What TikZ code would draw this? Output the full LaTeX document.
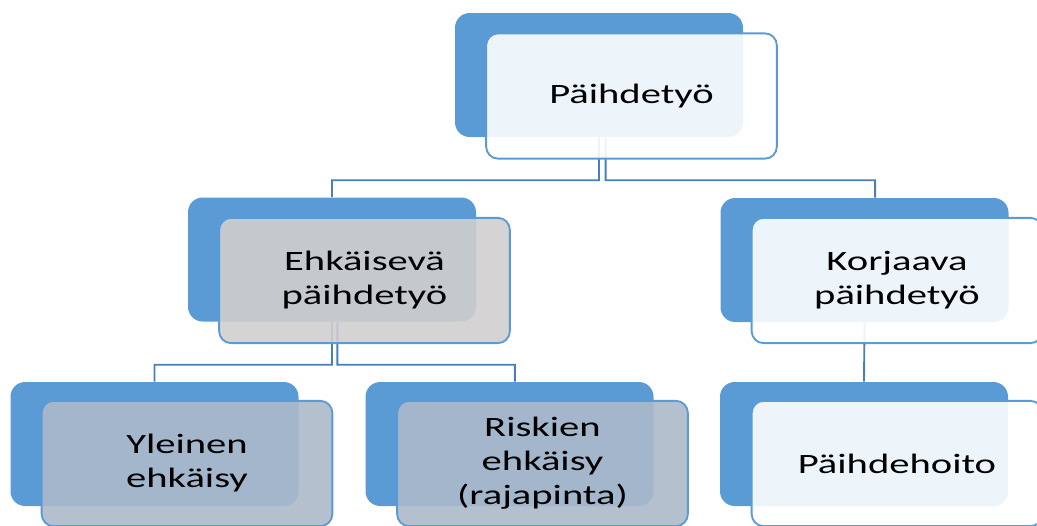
\documentclass[tikz,border=0pt]{standalone}
\usepackage{fontspec}
\setmainfont{Carlito}[FakeStretch=1.45]
\usepackage{tikz}
\usetikzlibrary{positioning,backgrounds}
\definecolor{backBlue}{HTML}{5B9BD5}
\definecolor{lineBlue}{HTML}{4A7EBB}
\definecolor{greyFill}{HTML}{D0CECE}
\definecolor{slateFill}{HTML}{ADB9CA}
\tikzstyle{bS}=[rectangle,rounded corners=11pt,fill=backBlue,draw=none,minimum width=216pt,minimum height=93pt,inner sep=0pt]
\tikzstyle{fS}=[rectangle,rounded corners=9pt,draw=backBlue,line width=1.4pt,fill=white,fill opacity=0.9,text opacity=1,minimum width=218pt,minimum height=94pt,inner sep=0pt,align=center,font=\fontsize{21}{25.5}\selectfont]
\tikzstyle{fGrey}=[fS,fill=greyFill]
\tikzstyle{fSlate}=[fS,fill=slateFill]
\tikzstyle{eS}=[draw=lineBlue,line width=1.4pt]
\begin{document}
\begin{tikzpicture}[x=0.75pt,y=-0.75pt]
                \useasboundingbox (0,0) rectangle (1037,525);
                \clip (0,0) rectangle (1037,525);
                \draw (599,75) node[bS] (b0) {}; 
                \draw (332,259.5) node[bS] (b1) {};
                \draw (864.5,260) node[bS] (b2) {};
                \draw (154.5,444) node[bS] (b3) {}; 
                \draw (509.5,444) node[bS] (b4) {};
                \draw (864,444) node[bS] (b5) {};
                \draw (631.5,96) node[fS] (n0) {Päihdetyö}; 
                \draw (364.5,280.5) node[fGrey] (n1) {Ehkäisevä\\päihdetyö};
                \draw (897,280.5) node[fS] (n2) {Korjaava\\päihdetyö};
                \draw (187,463.5) node[fSlate] (n3) {Yleinen\\ehkäisy}; 
                \draw (542.5,463.5) node[fSlate] (n4) {Riskien\\ehkäisy\\(rajapinta)};
                \draw (897,463.5) node[fS] (n5) {Päihdehoito};
                \begin{pgfonlayer}{background}
                \path[eS]
                    (b0.south) -- ++(0,43) -| (b1.north)
                    ([xshift=5pt]b0.south) -- ++(0,43) -| ([xshift=8pt]b2.north)
                    (b1.south) -- ++(0,43) -| (b3.north)
                    ([xshift=4pt]b1.south) -- ++(0,43) -| ([xshift=4pt]b4.north)
                    (b2.south) -- (b5.north)
                ;
                \end{pgfonlayer}
        \end{tikzpicture}
\end{document}
